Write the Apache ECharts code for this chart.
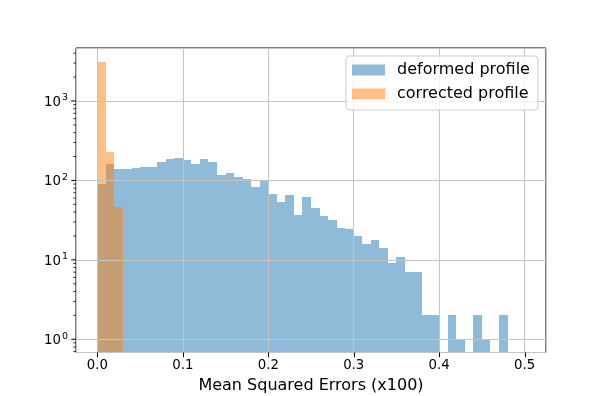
<!DOCTYPE html>
<html>
<head>
<meta charset="utf-8">
<script src="https://cdn.jsdelivr.net/npm/echarts@6/dist/echarts.min.js"></script>
<style>
html,body{margin:0;padding:0;background:#fff;}
#chart{width:606px;height:396px;}
</style>
</head>
<body>
<div id="chart"></div>
<script>
// Histogram bin edges (width 0.01)
const binStarts = [0.00,0.01,0.02,0.03,0.04,0.05,0.06,0.07,0.08,0.09,
                   0.10,0.11,0.12,0.13,0.14,0.15,0.16,0.17,0.18,0.19,
                   0.20,0.21,0.22,0.23,0.24,0.25,0.26,0.27,0.28,0.29,
                   0.30,0.31,0.32,0.33,0.34,0.35,0.36,0.37,0.38,0.39,
                   0.40,0.41,0.42,0.43,0.44,0.45,0.46,0.47,0.48,0.49];
const binWidth = 0.01;
// Counts per bin
const deformedCounts = [90,163,138,141,143,149,149,172,184,191,
                        181,161,184,169,116,125,109,105,83,97,
                        68,53,66,37,62,45,36,32,25.5,24.5,
                        20,16,18,14,9,11,7,7,2,2,
                        0,2,1,0,2,1,0,2,0,0];
const correctedCounts = [3120,228,46,0,0,0,0,0,0,0,
                         0,0,0,0,0,0,0,0,0,0,
                         0,0,0,0,0,0,0,0,0,0,
                         0,0,0,0,0,0,0,0,0,0,
                         0,0,0,0,0,0,0,0,0,0];
const seriesNames = ['deformed profile','corrected profile'];
const xAxisTitle = 'Mean Squared Errors (x100)';
const xTickValues = [0,0.1,0.2,0.3,0.4,0.5];
const xTickLabels = ['0.0','0.1','0.2','0.3','0.4','0.5'];
const yMajorTicks = [1,10,100,1000];

const X_MIN = -0.025, X_MAX = 0.525, Y_MIN = 0.682, Y_MAX = 4645;
const G_LEFT = 76, G_RIGHT = 60, G_TOP = 48, G_BOTTOM = 43.5;

function histData(counts){
  return binStarts.map((s,i)=>[s, s+binWidth, counts[i]]);
}
function renderBar(params, api){
  const v = api.value(2);
  if (!v) return;
  const p0 = api.coord([api.value(0), v]);
  const p1 = api.coord([api.value(1), v]);
  const bottom = params.coordSys.y + params.coordSys.height;
  const xa = Math.round(p0[0]), xb = Math.round(p1[0]), yt = Math.round(p0[1]);
  return {type:'rect', shape:{x:xa, y:yt, width:xb-xa, height:bottom-yt}, style: api.style()};
}
// y tick marks (major & minor) drawn through the log scale
const yTicks = [];
for (let e = -1; e <= 3; e++) {
  for (let m = 1; m <= 9; m++) {
    const v = m * Math.pow(10, e);
    if (v >= Y_MIN && v <= Y_MAX) yTicks.push([v, yMajorTicks.indexOf(v) >= 0 ? 1 : 0]);
  }
}
const chart = echarts.init(document.getElementById('chart'), null, {renderer:'canvas'});
const FONT = 'DejaVu Sans';
chart.setOption({
  animation:false,
  textStyle:{fontFamily:FONT},
  grid:{left:G_LEFT, right:G_RIGHT, top:G_TOP, bottom:G_BOTTOM, show:true, borderColor:'#000', borderWidth:1, backgroundColor:'transparent'},
  legend:{
    orient:'vertical', left:346, top:56,
    padding:[4,8,6,6], itemGap:4,
    itemWidth:33, itemHeight:11, icon:'rect',
    backgroundColor:'rgba(255,255,255,0.8)', borderColor:'#cccccc', borderWidth:1, borderRadius:3,
    textStyle:{fontFamily:FONT, fontSize:16, color:'#000', lineHeight:20, padding:[0,0,0,7]},
    data:seriesNames
  },
  xAxis:{
    type:'value', min:X_MIN, max:X_MAX, splitNumber:5,
    axisLine:{show:false},
    axisTick:{show:false},
    axisLabel:{show:false},
    splitLine:{show:true, lineStyle:{color:'#c4c4c4', width:1}}
  },
  yAxis:{
    type:'log', logBase:10, min:Y_MIN, max:Y_MAX,
    axisLine:{show:false},
    axisTick:{show:false},
    axisLabel:{margin:8, fontFamily:FONT, color:'#000',
      formatter:v=>{
        const e = Math.log10(v);
        if (Math.abs(e-Math.round(e))>1e-6) return '';
        return '{b|10}{e|'+Math.round(e)+'}';
      },
      rich:{
        b:{fontFamily:FONT, fontSize:13.3, color:'#000', lineHeight:16, verticalAlign:'bottom'},
        e:{fontFamily:FONT, fontSize:9.5, color:'#000', lineHeight:16, verticalAlign:'top', padding:[0,0,0,1]}
      }
    },
    splitLine:{show:true, lineStyle:{color:'#c4c4c4', width:1}}
  },
  series:[
    {name:seriesNames[0], type:'custom', renderItem:renderBar, data:histData(deformedCounts),
     encode:{x:[0,1], y:2}, itemStyle:{color:'rgba(31,119,180,0.5)'}, z:-1},
    {name:seriesNames[1], type:'custom', renderItem:renderBar, data:histData(correctedCounts),
     encode:{x:[0,1], y:2}, itemStyle:{color:'rgba(255,127,14,0.5)'}, z:-1},
    {name:'yticks', type:'custom', silent:true, clip:false, data:yTicks,
     encode:{y:0},
     renderItem:(params, api)=>{
       const v = api.value(0), major = api.value(1);
       const x0 = params.coordSys.x;
       const p = api.coord([X_MIN, v]);
       const len = major ? 4.7 : 2.7;
       return {type:'line', shape:{x1:x0-len, y1:p[1], x2:x0, y2:p[1]}, style:{stroke:'#000', lineWidth:major?1:0.8}};
     }}
  ]
});

// x ticks, tick labels and axis title positioned through the chart's own x scale
const bottomPx = chart.convertToPixel({gridIndex:0}, [X_MIN, Y_MIN])[1];
const leftPx = chart.convertToPixel({gridIndex:0}, [X_MIN, Y_MIN])[0];
const rightPx = chart.convertToPixel({gridIndex:0}, [X_MAX, Y_MIN])[0];
const gElems = [];
xTickValues.forEach((v, i) => {
  const px = chart.convertToPixel({gridIndex:0}, [v, Y_MIN])[0];
  const xl = Math.round(px) + 0.5;
  gElems.push({type:'line', z:100, silent:true,
    shape:{x1:xl, y1:bottomPx, x2:xl, y2:bottomPx + 4.7}, style:{stroke:'#000', lineWidth:1}});
  gElems.push({type:'text', z:100, silent:true, x:px, y:bottomPx + 13,
    style:{text:xTickLabels[i], fill:'#000', font:'13.3px "DejaVu Sans"', align:'center', verticalAlign:'middle'}});
});
gElems.push({type:'text', z:100, silent:true, x:(leftPx + rightPx) / 2, y:386,
  style:{text:xAxisTitle, fill:'#000', font:'16px "DejaVu Sans"', align:'center', verticalAlign:'middle'}});
chart.setOption({graphic:{elements:gElems}});
</script>
</body>
</html>
